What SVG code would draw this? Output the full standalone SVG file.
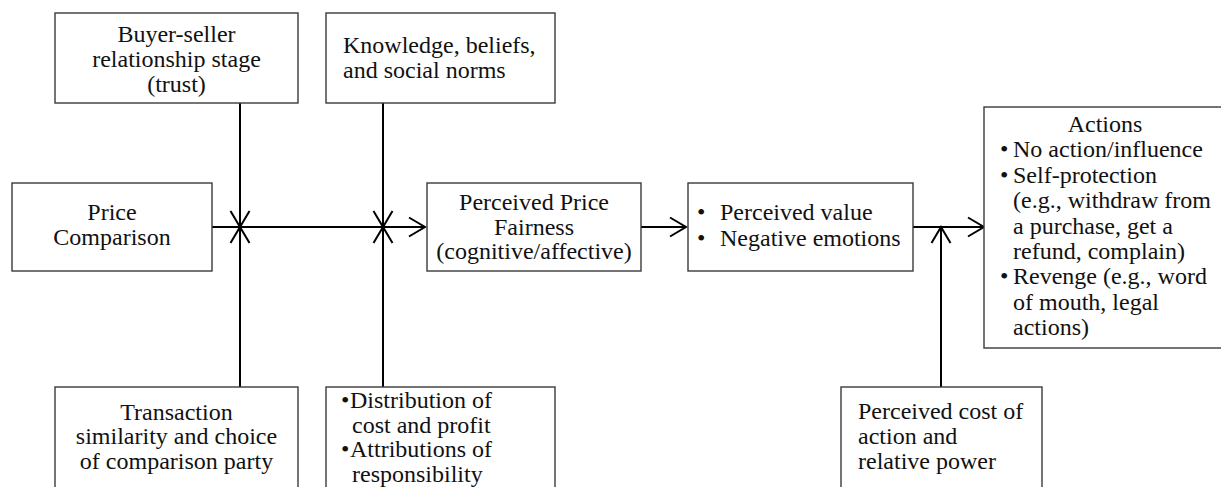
<svg xmlns="http://www.w3.org/2000/svg" width="1221" height="487" viewBox="0 0 1221 487">
<style>
.box{fill:#fff;stroke:#3a3a3a;stroke-width:1.4}
.c{text-anchor:middle}
.con{fill:none;stroke:#000;stroke-width:2}
</style>
<defs>
<marker id="ah" markerUnits="userSpaceOnUse" markerWidth="24" markerHeight="24" viewBox="-20 -12 24 24" refX="0" refY="0" orient="auto">
<path d="M-16,-9.5 L0,0 L-16,9.5" fill="none" stroke="#000" stroke-width="2"/>
</marker>
</defs>
<rect width="1221" height="487" fill="#fff"/>
<g id="connectors">
<line class="con" x1="212" y1="227" x2="425" y2="227" marker-end="url(#ah)"/>
<line class="con" x1="240" y1="103" x2="240" y2="227" marker-end="url(#ah)"/>
<line class="con" x1="240" y1="387" x2="240" y2="227" marker-end="url(#ah)"/>
<line class="con" x1="383" y1="103" x2="383" y2="227" marker-end="url(#ah)"/>
<line class="con" x1="383" y1="387" x2="383" y2="227" marker-end="url(#ah)"/>
<line class="con" x1="641" y1="227" x2="686" y2="227" marker-end="url(#ah)"/>
<line class="con" x1="913" y1="227" x2="984" y2="227" marker-end="url(#ah)"/>
<line class="con" x1="941" y1="387" x2="941" y2="227" marker-end="url(#ah)"/>
</g>
<g font-family="Liberation Serif, serif" font-size="24" fill="#111">
<g id="buyer-seller">
<rect class="box" x="55" y="13" width="243" height="90"/>
<text class="c" x="176.5" y="42">Buyer-seller</text>
<text class="c" x="176.5" y="67">relationship stage</text>
<text class="c" x="176.5" y="92">(trust)</text>
</g>
<g id="knowledge">
<rect class="box" x="326" y="13" width="229" height="90"/>
<text x="343" y="53">Knowledge, beliefs,</text>
<text x="343" y="78">and social norms</text>
</g>
<g id="price-comparison">
<rect class="box" x="12" y="183" width="200" height="88"/>
<text class="c" x="112" y="220">Price</text>
<text class="c" x="112" y="245">Comparison</text>
</g>
<g id="perceived-price-fairness">
<rect class="box" x="427" y="183" width="214" height="88"/>
<text class="c" x="534" y="210">Perceived Price</text>
<text class="c" x="534" y="235">Fairness</text>
<text class="c" x="534" y="259">(cognitive/affective)</text>
</g>
<g id="perceived-value">
<rect class="box" x="688" y="183" width="225" height="88"/>
<text x="697" y="220">•</text>
<text x="720" y="220">Perceived value</text>
<text x="697" y="246">•</text>
<text x="720" y="246">Negative emotions</text>
</g>
<g id="actions">
<rect class="box" x="984" y="107" width="250" height="241"/>
<text class="c" x="1105" y="132">Actions</text>
<text x="1000" y="157.4">•</text>
<text x="1013" y="157.4">No action/influence</text>
<text x="1000" y="182.8">•</text>
<text x="1013" y="182.8">Self-protection</text>
<text x="1013" y="208.2">(e.g., withdraw from</text>
<text x="1013" y="233.6">a purchase, get a</text>
<text x="1013" y="259">refund, complain)</text>
<text x="1000" y="284.4">•</text>
<text x="1013" y="284.4">Revenge (e.g., word</text>
<text x="1013" y="309.8">of mouth, legal</text>
<text x="1013" y="335.2">actions)</text>
</g>
<g id="transaction">
<rect class="box" x="55" y="387" width="243" height="110"/>
<text class="c" x="176.5" y="420">Transaction</text>
<text class="c" x="176.5" y="444">similarity and choice</text>
<text class="c" x="176.5" y="469">of comparison party</text>
</g>
<g id="distribution">
<rect class="box" x="326" y="387" width="229" height="110"/>
<text x="341" y="408">•</text>
<text x="350" y="408">Distribution of</text>
<text x="352" y="433">cost and profit</text>
<text x="341" y="457">•</text>
<text x="350" y="457">Attributions of</text>
<text x="352" y="482">responsibility</text>
</g>
<g id="perceived-cost">
<rect class="box" x="841" y="387" width="201" height="110"/>
<text x="858" y="419">Perceived cost of</text>
<text x="858" y="444">action and</text>
<text x="858" y="469">relative power</text>
</g>
</g>
</svg>
